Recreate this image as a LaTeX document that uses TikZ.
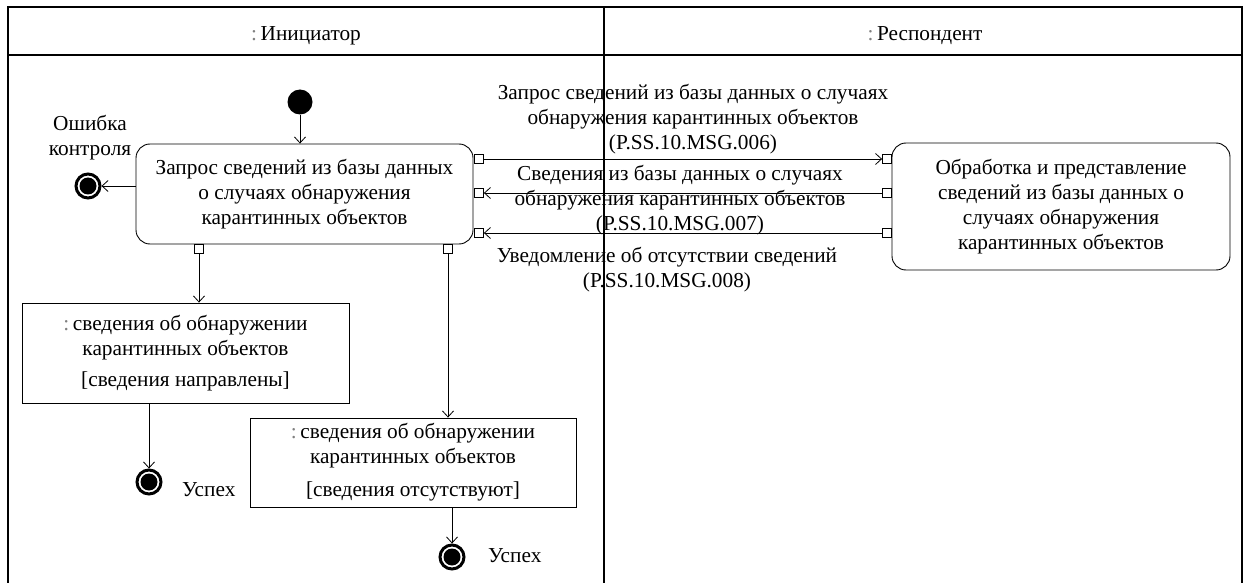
\documentclass[tikz,border=0pt]{standalone}
\usepackage{fontspec}
\setmainfont{Liberation Serif}
\usetikzlibrary{arrows.meta}
\begin{document}
\begin{tikzpicture}[x=1pt,y=-1pt,
  every node/.style={font=\fontsize{21.3}{25}\selectfont},
  lane/.style={line width=1.3pt},
  action/.style={draw, rounded corners=14pt, align=center, inner sep=0pt, line width=0.9pt},
  objbox/.style={draw, align=center, inner sep=0pt, line width=0.9pt},
  pinbox/.style={draw, fill=white, minimum size=9pt, inner sep=0pt, line width=0.8pt},
  flow/.style={line width=0.8pt, -{Straight Barb[length=6pt,width=11pt]}},
  initnode/.style={circle, fill=black, minimum size=25pt, inner sep=0pt},
  finalnode/.style={circle, draw, line width=3pt, minimum size=24pt, inner sep=0pt, fill=white,
    path picture={\fill[black] (path picture bounding box.center) circle (8.5pt);}},
  lbl/.style={align=center, inner sep=0pt},
  ]
\useasboundingbox (0,0) rectangle (1251,583);
\clip (0,0) rectangle (1251,583);
% swimlanes
\draw[lane] (8,7) rectangle (1242,600);
\draw[lane] (8,55) -- (1242,55);
\draw[lane] (604,7) -- (604,600);
\node[lbl] (h1) at (306,36) {{\color{gray}:}\,Инициатор};
\node[lbl] (h2) at (925,36) {{\color{gray}:}\,Респондент};

% nodes
\node[initnode] (I) at (300,102) {};
\node[action, minimum width=337pt, minimum height=100pt] (A1) at (304.5,194)
  {Запрос сведений из базы данных\\о случаях обнаружения\\карантинных объектов};
\node[action, minimum width=338pt, minimum height=127pt] (B) at (1061,206.5)
  {Обработка и представление\\сведений из базы данных о\\случаях обнаружения\\карантинных объектов};
\node[finalnode] (F1) at (88,186) {};
\node[lbl] (e1) at (90,138) {Ошибка\\контроля};

% pins
\node[pinbox] (p1) at (479,159) {};
\node[pinbox] (p2) at (479,193) {};
\node[pinbox] (p3) at (479,233) {};
\node[pinbox] (q1) at (887,159) {};
\node[pinbox] (q2) at (887,193) {};
\node[pinbox] (q3) at (887,233) {};
\node[pinbox] (b1) at (199,249) {};
\node[pinbox] (b2) at (448,249) {};

% object nodes
\node[objbox, minimum width=327pt, minimum height=100pt] (O1) at (185.5,353)
  {{\color{gray}:}\,сведения об обнаружении\\карантинных объектов\\[6pt][сведения направлены]};
\node[objbox, minimum width=326pt, minimum height=89pt] (O2) at (413,462.5)
  {{\color{gray}:}\,сведения об обнаружении\\карантинных объектов\\[8pt][сведения отсутствуют]};
\node[finalnode] (F2) at (149,482) {};
\node[finalnode] (F3) at (452,557) {};
\node[lbl, anchor=west] (s1) at (182,490) {Успех};
\node[lbl, anchor=west] (s2) at (488,556) {Успех};

% message labels
\node[lbl] (m1) at (693,119) {Запрос сведений из базы данных о случаях\\обнаружения карантинных объектов\\(P.SS.10.MSG.006)};
\node[lbl] (m2) at (680,200) {Сведения из базы данных о случаях\\обнаружения карантинных объектов\\(P.SS.10.MSG.007)};
\node[lbl] (m3) at (667,270) {Уведомление об отсутствии сведений\\(P.SS.10.MSG.008)};

% connectors
\draw[flow] (I) -- (I |- A1.north);
\draw[flow] (A1.west |- F1) -- (F1.east);
\draw[flow] (p1.east) -- (q1.west);
\draw[flow] (q2.west) -- (p2.east);
\draw[flow] (q3.west) -- (p3.east);
\draw[flow] (b1.south) -- (b1.south |- O1.north);
\draw[flow] (b2.south) -- (b2.south |- O2.north);
\draw[flow] (F2 |- O1.south) -- (F2.north);
\draw[flow] (F3 |- O2.south) -- (F3.north);
\end{tikzpicture}
\end{document}
